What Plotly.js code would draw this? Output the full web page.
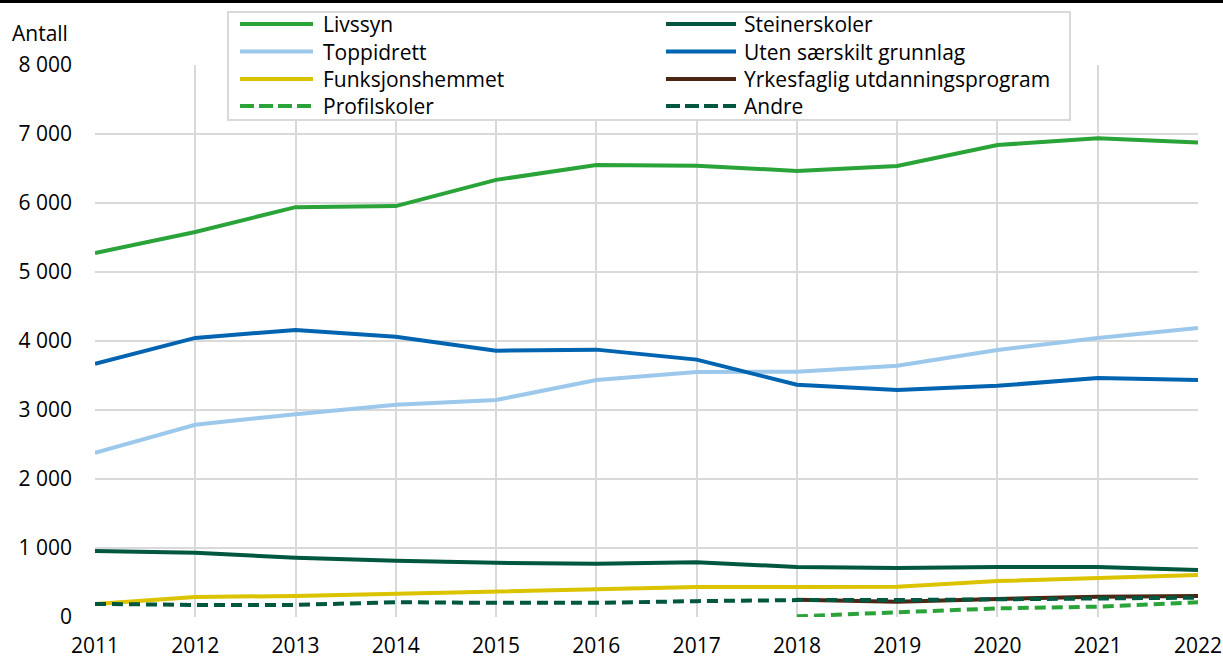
<!DOCTYPE html>
<html><head><meta charset="utf-8">
<script src="https://cdn.plot.ly/plotly-3.0.1.min.js"></script>
<style>html,body{margin:0;padding:0;background:#fff;}#topbar{position:absolute;left:0;top:0;width:1223px;height:3px;background:#000;z-index:10;}#chart{position:absolute;left:0;top:0;width:1223px;height:659px;}</style>
</head><body>
<div id="chart"></div><div id="topbar"></div>
<script>
const years = [2011,2012,2013,2014,2015,2016,2017,2018,2019,2020,2021,2022];
const livssyn = [5275,5580,5940,5955,6335,6550,6540,6465,6535,6840,6940,6875];
const toppidrett = [2380,2785,2940,3075,3145,3435,3550,3555,3640,3870,4045,4190];
const funksjonshemmet = [190,290,305,335,375,405,435,435,440,520,565,610];
const profilskoler = [null,null,null,null,null,null,null,10,65,125,150,215];
const steinerskoler = [955,930,860,815,785,770,795,725,710,725,725,680];
const uten = [3670,4045,4160,4060,3860,3875,3730,3365,3290,3350,3465,3435];
const yrkesfaglig = [null,null,null,null,null,null,null,250,220,260,295,305];
const andre = [190,175,175,215,205,205,230,245,245,260,275,280];
const yTicks = [0,1000,2000,3000,4000,5000,6000,7000,8000];

const green='#2aa339', dark='#00573f';
const series=[
  {name:'Livssyn',y:livssyn,color:green,dash:'solid',col:0,row:0},
  {name:'Toppidrett',y:toppidrett,color:'#9cc8ec',dash:'solid',col:0,row:1},
  {name:'Funksjonshemmet',y:funksjonshemmet,color:'#dcc300',dash:'solid',col:0,row:2},
  {name:'Steinerskoler',y:steinerskoler,color:dark,dash:'solid',col:1,row:0},
  {name:'Uten særskilt grunnlag',y:uten,color:'#0064b0',dash:'solid',col:1,row:1},
  {name:'Yrkesfaglig utdanningsprogram',y:yrkesfaglig,color:'#4b2612',dash:'solid',col:1,row:2},
  {name:'Profilskoler',y:profilskoler,color:green,dash:'11px,6px',col:0,row:3},
  {name:'Andre',y:andre,color:dark,dash:'11px,6px',col:1,row:3}
];
const data=series.map(s=>({type:'scatter',mode:'lines',x:years,y:s.y,name:s.name,
  line:{color:s.color,width:4,dash:s.dash},showlegend:false,hoverinfo:'x+y+name'}));

// pixel -> paper helpers for the hand-built legend box
const L=95,T=65,W=1103,H=552;
const px=v=>(v-L)/W, py=v=>(T+H-v)/H;
const colLine=[[240,313],[666,736]], colText=[321,742];
const rowY=[24,51.5,79,106];
const shapes=[{type:'rect',xref:'paper',yref:'paper',x0:px(228),x1:px(1070),y0:py(12),y1:py(120),
  line:{color:'#d9d9d9',width:2},fillcolor:'#fff',layer:'above'}];
const annotations=[{text:'Antall',xref:'paper',yref:'paper',x:px(10),xanchor:'left',
    y:py(33),yanchor:'middle',showarrow:false,font:{size:21}}];
series.forEach(s=>{
  shapes.push({type:'line',xref:'paper',yref:'paper',layer:'above',
    x0:px(colLine[s.col][0]),x1:px(colLine[s.col][1]),y0:py(rowY[s.row]),y1:py(rowY[s.row]),
    line:{color:s.color,width:4,dash:s.dash==='solid'?'solid':'14px,5px'}});
  annotations.push({text:s.name,xref:'paper',yref:'paper',x:px(colText[s.col]),xanchor:'left',
    y:py(rowY[s.row]),yanchor:'middle',showarrow:false,font:{size:21}});
});

const layout={
  width:1223,height:659,
  margin:{l:L,r:25,t:T,b:42},
  paper_bgcolor:'#fff',plot_bgcolor:'#fff',
  font:{family:'Open Sans, sans-serif',size:21,color:'#000'},
  separators:', ',
  showlegend:false,
  xaxis:{range:[2011,2022],tickvals:years,ticktext:years.map(String),
    showgrid:true,gridcolor:'#d9d9d9',gridwidth:2,zeroline:false,showline:false,
    ticks:'',ticklabelstandoff:14,tickfont:{size:21}},
  yaxis:{range:[0,8000],tickvals:yTicks,tickformat:',d',
    showgrid:true,gridcolor:'#d9d9d9',gridwidth:2,zeroline:false,showline:false,
    ticks:'',ticklabelstandoff:22,tickfont:{size:21}},
  shapes:shapes,
  annotations:annotations
};
Plotly.newPlot('chart',data,layout,{displayModeBar:false,staticPlot:true});
</script></body></html>
